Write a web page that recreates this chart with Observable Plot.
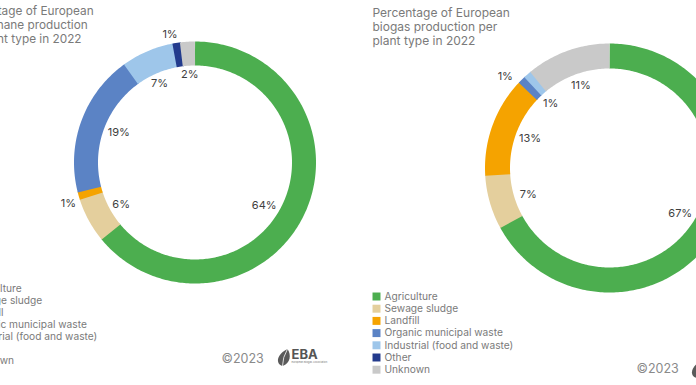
<!DOCTYPE html>
<html><head><meta charset="utf-8">
<script src="https://cdn.jsdelivr.net/npm/d3@7"></script>
<script src="https://cdn.jsdelivr.net/npm/@observablehq/plot@0.6"></script>
<style>html,body{margin:0;padding:0;background:#fff;overflow:hidden}#chart{width:696px;height:385px}</style>
</head><body><div id="chart"></div>
<script>
// ---- data ----
const categories = ["Agriculture","Sewage sludge","Landfill","Organic municipal waste","Industrial (food and waste)","Other","Unknown"];
const colors = ["#4cae4f","#e4cf9d","#f5a300","#5b83c5","#9ec6ea","#233b8d","#c9c9c9"];
const biomethaneShares = [64, 6, 1, 19, 7, 1, 2];
const biogasShares = [67, 7, 13, 1, 1, 0, 11];
const biomethaneLabelSide = ["in","in","out","in","in","out","in"];
const biogasLabelSide = ["in","in","in","out","in","none","in"];
const biomethaneTitle = ["Percentage of European", "biomethane production", "per plant type in 2022"];
const biogasTitle = ["Percentage of European", "biogas production per", "plant type in 2022"];
const copyrightText = "©2023";
const logoText = "EBA";
const logoSubText = "European Biogas Association";

// ---- layout (not data): label nudges in px ----
const biomethaneLabelNudge = [[-5, 8], [-2, 2], [2, 4], [1, -2], [-3, -4], [-4, 4], [0, -6]];
const biogasLabelNudge = [[-2, 2], [0, 3], [0, -1], [-7, 6], [-3, -1], [0, 0], [0, -3]];

const panels = [
  {shares: biomethaneShares, sides: biomethaneLabelSide, nudge: biomethaneLabelNudge, title: biomethaneTitle,
   cx: 194.5, cy: 162, R: 121, r: 97, titleX: -42, titleY: 5, titleSize: 11.8, legendX: -32, legendY: 288, legendStep: 12,
   copyX: 221, copyY: 358, logoX: 283, logoY: 357},
  {shares: biogasShares, sides: biogasLabelSide, nudge: biogasLabelNudge, title: biogasTitle,
   cx: 609, cy: 167.5, R: 124.5, r: 99.5, titleX: 372, titleY: 6.5, titleSize: 12, legendX: 384, legendY: 296, legendStep: 12.2,
   copyX: 636, copyY: 368, logoX: 697, logoY: 369}
];

const arcPoints = [], labels = [], legend = [], titles = [], copies = [], logos = [];
panels.forEach((p, pi) => {
  let cum = 0;
  const m = (p.R + p.r) / 2;
  p.shares.forEach((v, i) => {
    const a0 = cum, a1 = cum + v;
    cum = a1;
    if (v > 0) {
      const end = Math.min(a1 + 0.15, 100.0001);
      const n = Math.max(2, Math.ceil((end - a0) / 0.25) + 1);
      for (let k = 0; k < n; k++) {
        const pct = a0 + (end - a0) * k / (n - 1);
        const t = 2 * Math.PI * pct / 100;
        arcPoints.push({key: pi + "-" + i, category: categories[i],
          x: p.cx + m * Math.sin(t), y: p.cy - m * Math.cos(t)});
      }
    }
    const side = p.sides[i];
    if (side !== "none") {
      const t = 2 * Math.PI * (a0 + a1) / 2 / 100;
      const rr = side === "in" ? p.r - 15 : p.R + 13;
      labels.push({x: p.cx + rr * Math.sin(t) + p.nudge[i][0], y: p.cy - rr * Math.cos(t) + p.nudge[i][1], text: v + "%"});
    }
    legend.push({category: categories[i], x: p.legendX, y: p.legendY + i * p.legendStep});
  });
  titles.push({x: p.titleX, y: p.titleY, size: p.titleSize, text: p.title.join("\n")});
  copies.push({x: p.copyX, y: p.copyY, text: copyrightText});
  logos.push({x: p.logoX, y: p.logoY});
});

const leaf = {draw(ctx, size) {
  ctx.moveTo(-1, 8.5);
  ctx.bezierCurveTo(-9, 6, -6, -4, 4, -8.5);
  ctx.bezierCurveTo(8, -3, 7, 6, -1, 8.5);
  ctx.closePath();
}};
const vein = {draw(ctx, size) {
  ctx.moveTo(-1, 8.5);
  ctx.quadraticCurveTo(-1, 0, 4, -8.5);
}};

const chart = Plot.plot({
  width: 696, height: 385, margin: 0,
  x: {domain: [0, 696], range: [0, 696], axis: null},
  y: {domain: [0, 385], range: [0, 385], axis: null},
  color: {domain: categories, range: colors},
  style: {fontFamily: "Inter, 'Open Sans', sans-serif", background: "#fff", overflow: "hidden"},
  marks: [
    ...panels.map((p, pi) => Plot.line(arcPoints.filter(d => d.key.startsWith(pi + "-")),
      {x: "x", y: "y", z: "key", stroke: "category", strokeWidth: p.R - p.r, strokeLinecap: "butt", curve: "linear"})),
    Plot.text(labels, {x: "x", y: "y", text: "text", fill: "#404040", fontSize: 11}),
    ...titles.map(t => Plot.text([t], {x: "x", y: "y", text: "text", fill: "#7a7a7a", fontSize: t.size, lineAnchor: "top", textAnchor: "start", lineHeight: 1.17})),
    Plot.dot(legend, {x: d => d.x - 8, y: "y", symbol: "square", fill: "category", r: 4.5}),
    Plot.text(legend, {x: "x", y: "y", text: "category", fill: "#7a7a7a", fontSize: 10.2, textAnchor: "start"}),
    Plot.text(copies, {x: "x", y: "y", text: "text", fill: "#8a8a8a", fontSize: 12.5, textAnchor: "start"}),
    Plot.dot(logos, {x: "x", y: "y", symbol: leaf, r: 1, fill: "#5a5a5a", stroke: "none"}),
    Plot.dot(logos, {x: "x", y: "y", symbol: vein, r: 1, fill: "none", stroke: "#fff", strokeWidth: 0.8}),
    Plot.text(logos, {x: d => d.x + 8, y: d => d.y - 3, text: () => logoText, fill: "#555", fontSize: 13, fontWeight: 700, textAnchor: "start"}),
    Plot.text(logos, {x: d => d.x + 8, y: d => d.y + 5, text: () => logoSubText, fill: "#777", fontSize: 2.6, textAnchor: "start"})
  ]
});
document.getElementById("chart").append(chart);
</script></body></html>
